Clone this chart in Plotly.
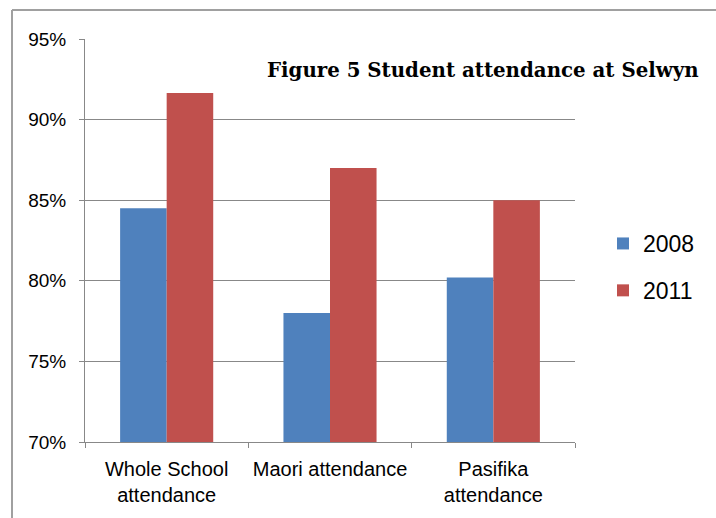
import plotly.graph_objects as go

categories = ["Whole School<br>attendance", "Maori attendance", "Pasifika<br>attendance"]
series_names = ["2008", "2011"]
values_2008 = [84.5, 78.0, 80.2]
values_2011 = [91.65, 87.0, 85.0]
colors = ["#4F81BD", "#C0504D"]
y_ticks = [70, 75, 80, 85, 90, 95]
y_tick_labels = ["70%", "75%", "80%", "85%", "90%", "95%"]
title_text = "Figure 5 Student attendance at Selwyn"

W, H = 716, 518
L, R, T, B = 85, 141, 39, 76
pw, ph = W - L - R, H - T - B

def px_x(x):
    return (x - L) / pw

def px_y(y):
    return (H - B - y) / ph

fig = go.Figure()
for name, vals, col in zip(series_names, [values_2008, values_2011], colors):
    fig.add_trace(go.Bar(x=categories, y=vals, name=name, marker_color=col,
                         marker_line_width=0, legendgroup=name))

sans = "Liberation Sans, Arial, sans-serif"
grid_col = "#888888"
fig.update_layout(
    width=W, height=H,
    margin=dict(l=L, r=R, t=T, b=B, pad=0, autoexpand=False),
    paper_bgcolor="white", plot_bgcolor="white",
    bargap=0.43, bargroupgap=0,
    font=dict(family=sans, color="#000000"),
    showlegend=True,
    legend=dict(x=px_x(603), xanchor="left", y=px_y(267), yanchor="middle",
                font=dict(size=23, family=sans), traceorder="grouped",
                tracegroupgap=14, bgcolor="rgba(0,0,0,0)"),
    xaxis=dict(showgrid=False, showline=True, linecolor=grid_col, linewidth=1,
               ticks="outside", tickson="boundaries", ticklen=5, tickcolor=grid_col,
               tickfont=dict(size=20, family=sans), ticklabelstandoff=9,
               tickangle=0, automargin=False, fixedrange=True),
    yaxis=dict(range=[70, 95], tickvals=y_ticks, ticktext=y_tick_labels, showgrid=True,
               gridcolor=grid_col, gridwidth=1, showline=True, linecolor=grid_col,
               linewidth=1, ticks="outside", ticklen=5, tickcolor=grid_col,
               tickfont=dict(size=19, family=sans), ticklabelstandoff=9,
               automargin=False, zeroline=False, fixedrange=True),
)

fig.add_annotation(text="<b>" + title_text + "</b>", xref="paper", yref="paper",
                   x=px_x(483), y=px_y(70), xanchor="center", yanchor="middle",
                   showarrow=False,
                   font=dict(family="DejaVu Serif, serif", size=19.8, color="#000000"))

frame_col = "#A0A0A0"
fig.add_shape(type="line", xref="paper", yref="paper", x0=px_x(12), x1=px_x(716),
              y0=px_y(10), y1=px_y(10), line=dict(color=frame_col, width=2))
fig.add_shape(type="line", xref="paper", yref="paper", x0=px_x(12), x1=px_x(12),
              y0=px_y(10), y1=px_y(518), line=dict(color=frame_col, width=2))

fig.write_html("out.html")
